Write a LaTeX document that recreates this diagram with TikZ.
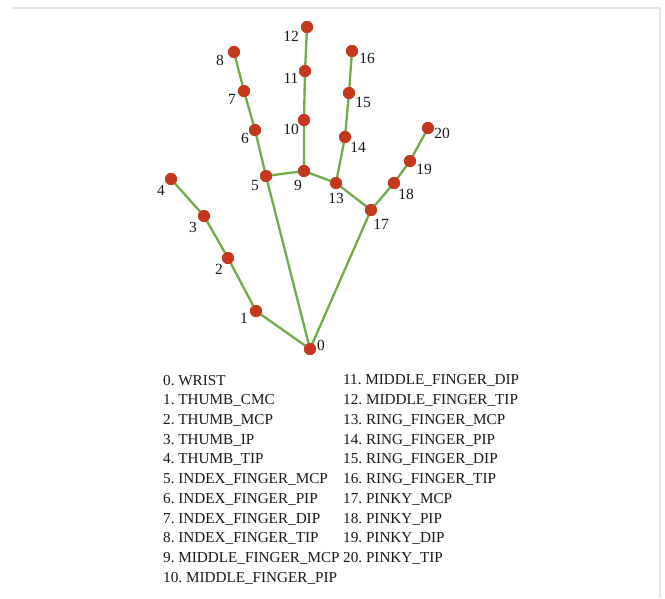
\documentclass[tikz,border=0pt]{standalone}
\usepackage{fontspec}
\setmainfont{Liberation Serif}
\begin{document}
\frenchspacing
\begin{tikzpicture}[x=1pt,y=-1pt,
  joint/.style={circle,fill=jointred,inner sep=0pt,minimum size=12pt},
  bone/.style={draw=bonegreen,line width=2.3pt},
  lbl/.style={font=\fontsize{15.5}{17}\selectfont,inner sep=0pt,text=black!90},
  item/.style={font=\fontsize{15.2}{18}\selectfont,inner sep=0pt,anchor=west,text=black!90}]
\definecolor{jointred}{RGB}{196,56,30}
\definecolor{bonegreen}{RGB}{112,172,72}
\definecolor{framegray}{RGB}{228,228,228}
\useasboundingbox (0,0) rectangle (665,598);
\fill[white] (0,0) rectangle (665,598);
\coordinate (tl) at (12,8);
\coordinate (tr) at (660,8);
\coordinate (br) at (660,598);
\draw[framegray,line width=1.2pt] (tl) -- (tr) -- (br);
% joints
\node[joint] (n0) at (310,349) {};
\node[joint] (n1) at (256,311) {};
\node[joint] (n2) at (228,258) {};
\node[joint] (n3) at (204,216) {};
\node[joint] (n4) at (171,179) {};
\node[joint] (n5) at (266,176) {};
\node[joint] (n6) at (255,130) {};
\node[joint] (n7) at (244,91) {};
\node[joint] (n8) at (234,52) {};
\node[joint] (n9) at (304,171) {};
\node[joint] (n10) at (304,120) {};
\node[joint] (n11) at (305,71) {};
\node[joint] (n12) at (307,27) {};
\node[joint] (n13) at (336,183) {};
\node[joint] (n14) at (345,137) {};
\node[joint] (n15) at (349,93) {};
\node[joint] (n16) at (352,51) {};
\node[joint] (n17) at (371,210) {};
\node[joint] (n18) at (394,183) {};
\node[joint] (n19) at (410,161) {};
\node[joint] (n20) at (428,128) {};
% bones
\draw[bone] (n0.center) -- (n1.center) -- (n2.center) -- (n3.center) -- (n4.center);
\draw[bone] (n0.center) -- (n5.center) -- (n6.center) -- (n7.center) -- (n8.center);
\draw[bone] (n5.center) -- (n9.center) -- (n10.center) -- (n11.center) -- (n12.center);
\draw[bone] (n9.center) -- (n13.center) -- (n14.center) -- (n15.center) -- (n16.center);
\draw[bone] (n13.center) -- (n17.center) -- (n18.center) -- (n19.center) -- (n20.center);
\draw[bone] (n0.center) -- (n17.center);
% joints on top of the bones
\foreach \i in {0,...,20} { \fill[jointred] (n\i) circle (6pt); }
% labels
\node[lbl] (l0) at (321,345) {0};
\node[lbl] (l1) at (244,318) {1};
\node[lbl] (l2) at (219,269) {2};
\node[lbl] (l3) at (193,227) {3};
\node[lbl] (l4) at (161,190) {4};
\node[lbl] (l5) at (255,185) {5};
\node[lbl] (l6) at (245,138) {6};
\node[lbl] (l7) at (232,99) {7};
\node[lbl] (l8) at (220,60) {8};
\node[lbl] (l9) at (298,185) {9};
\node[lbl] (l10) at (291,129) {10};
\node[lbl] (l11) at (291,78) {11};
\node[lbl] (l12) at (291,36) {12};
\node[lbl] (l13) at (336,198) {13};
\node[lbl] (l14) at (358,147) {14};
\node[lbl] (l15) at (363,102) {15};
\node[lbl] (l16) at (367,58) {16};
\node[lbl] (l17) at (381,224) {17};
\node[lbl] (l18) at (406,194) {18};
\node[lbl] (l19) at (424,169) {19};
\node[lbl] (l20) at (442,133) {20};
% legend
\node[item] (t0) at (163,380.7) {0. WRIST};
\node[item] (t1) at (163,400.5) {1. THUMB\_CMC};
\node[item] (t2) at (163,420.2) {2. THUMB\_MCP};
\node[item] (t3) at (163,440.0) {3. THUMB\_IP};
\node[item] (t4) at (163,459.8) {4. THUMB\_TIP};
\node[item] (t5) at (163,479.5) {5. INDEX\_FINGER\_MCP};
\node[item] (t6) at (163,499.3) {6. INDEX\_FINGER\_PIP};
\node[item] (t7) at (163,519.0) {7. INDEX\_FINGER\_DIP};
\node[item] (t8) at (163,538.8) {8. INDEX\_FINGER\_TIP};
\node[item] (t9) at (163,558.6) {9. MIDDLE\_FINGER\_MCP};
\node[item] (t10) at (163,578.3) {10. MIDDLE\_FINGER\_PIP};
\node[item] (t11) at (343,380.7) {11. MIDDLE\_FINGER\_DIP};
\node[item] (t12) at (343,400.5) {12. MIDDLE\_FINGER\_TIP};
\node[item] (t13) at (343,420.2) {13. RING\_FINGER\_MCP};
\node[item] (t14) at (343,440.0) {14. RING\_FINGER\_PIP};
\node[item] (t15) at (343,459.8) {15. RING\_FINGER\_DIP};
\node[item] (t16) at (343,479.5) {16. RING\_FINGER\_TIP};
\node[item] (t17) at (343,499.3) {17. PINKY\_MCP};
\node[item] (t18) at (343,519.0) {18. PINKY\_PIP};
\node[item] (t19) at (343,538.8) {19. PINKY\_DIP};
\node[item] (t20) at (343,558.6) {20. PINKY\_TIP};
\end{tikzpicture}
\end{document}
